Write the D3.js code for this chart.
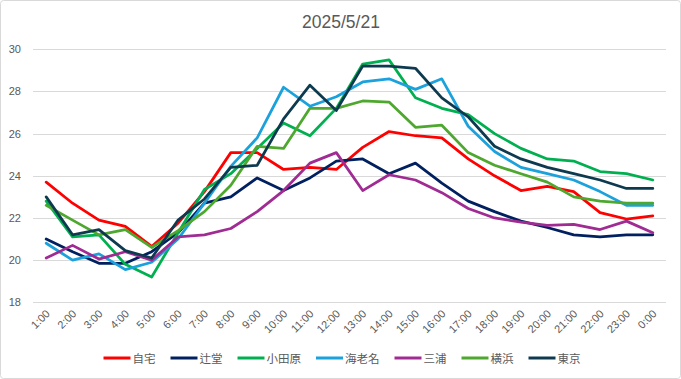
<!DOCTYPE html>
<html><head><meta charset="utf-8">
<script src="https://cdn.jsdelivr.net/npm/d3@7"></script>
<style>
html,body{margin:0;padding:0;background:#fff;}
svg{display:block;font-family:"Liberation Sans","Noto Sans CJK JP",sans-serif;}
</style></head>
<body>
<svg id="chart" width="681" height="379"></svg>
<script>
const title = "2025/5/21";
const hours = ["1:00","2:00","3:00","4:00","5:00","6:00","7:00","8:00","9:00","10:00","11:00","12:00","13:00","14:00","15:00","16:00","17:00","18:00","19:00","20:00","21:00","22:00","23:00","0:00"];
const yTicks = [18,20,22,24,26,28,30];
const seriesNames = ["自宅","辻堂","小田原","海老名","三浦","横浜","東京"];
const seriesColors = ["#FF0000","#002060","#00B050","#1BA1DB","#A02B93","#4EA72E","#0E3A4F"];
const jitaku   = [23.7,22.7,21.9,21.6,20.65,21.75,23.25,25.1,25.1,24.3,24.4,24.3,25.35,26.1,25.9,25.8,24.8,24.0,23.3,23.5,23.25,22.25,21.95,22.1];
const tsujido  = [21.0,20.4,19.85,19.85,20.4,21.3,22.7,23.0,23.9,23.3,23.9,24.7,24.8,24.1,24.6,23.65,22.8,22.3,21.85,21.55,21.2,21.1,21.2,21.2];
const odawara  = [22.8,21.1,21.2,19.8,19.2,21.3,23.35,24.1,25.3,26.5,25.9,27.2,29.3,29.5,27.7,27.2,26.9,26.0,25.3,24.8,24.7,24.2,24.1,23.8];
const ebina    = [20.8,20.0,20.3,19.55,19.9,21.0,22.7,24.45,25.8,28.2,27.3,27.75,28.45,28.6,28.1,28.6,26.35,25.15,24.4,24.1,23.8,23.25,22.6,22.6];
const miura    = [20.1,20.7,20.05,20.4,20.0,21.1,21.2,21.5,22.3,23.3,24.6,25.1,23.3,24.05,23.8,23.2,22.45,22.0,21.8,21.65,21.7,21.45,21.85,21.3];
const yokohama = [22.6,21.9,21.2,21.45,20.6,21.4,22.3,23.55,25.4,25.3,27.2,27.2,27.55,27.5,26.3,26.4,25.1,24.5,24.1,23.7,23.0,22.8,22.7,22.7];
const tokyo    = [23.0,21.2,21.45,20.45,20.1,21.9,22.9,24.4,24.5,26.7,28.3,27.1,29.2,29.2,29.1,27.7,26.8,25.4,24.8,24.4,24.1,23.8,23.4,23.4];
const seriesValues = [jitaku,tsujido,odawara,ebina,miura,yokohama,tokyo];

const svg = d3.select("#chart");
const W = 681, H = 379;
const plot = {left:33, right:666, top:49.3, bottom:302.3};
const textColor = "#595959";

svg.append("rect").attr("x",0.5).attr("y",0.5).attr("width",W-1).attr("height",H-1)
  .attr("rx",3).attr("fill","#fff").attr("stroke","#D9D9D9");

svg.append("text").attr("x",341).attr("y",28).attr("text-anchor","middle")
  .attr("font-size",17.5).attr("fill",textColor).text(title);

const x = d3.scalePoint().domain(hours).range([plot.left, plot.right]).padding(0.5);
const y = d3.scaleLinear().domain([18,30]).range([plot.bottom, plot.top]);

// grid
svg.append("g").selectAll("line").data(yTicks).join("line")
  .attr("x1",plot.left).attr("x2",plot.right)
  .attr("y1",d=>Math.round(y(d))+0.5).attr("y2",d=>Math.round(y(d))+0.5)
  .attr("stroke","#D9D9D9").attr("stroke-width",1);

// y axis
const yAxis = svg.append("g").attr("transform",`translate(${plot.left},0)`)
  .call(d3.axisLeft(y).tickValues(yTicks).tickSize(0).tickPadding(12));
yAxis.select(".domain").remove();
yAxis.selectAll("text").attr("font-size",11).attr("fill",textColor)
  .attr("font-family","'Liberation Sans',sans-serif");

// x axis
const xAxis = svg.append("g").attr("transform",`translate(0,${plot.bottom})`)
  .call(d3.axisBottom(x).tickSize(0).tickPadding(0));
xAxis.select(".domain").remove();
xAxis.selectAll("text").attr("font-size",11).attr("fill",textColor)
  .attr("text-anchor","end").attr("dy",0)
  .attr("transform","translate(4,12) rotate(-45)");

// lines
const line = d3.line().x((d,i)=>x(hours[i])).y(d=>y(d));
svg.append("g").selectAll("path").data(seriesValues).join("path")
  .attr("d",d=>line(d)).attr("fill","none")
  .attr("stroke",(d,i)=>seriesColors[i]).attr("stroke-width",2.75)
  .attr("stroke-linejoin","round").attr("stroke-linecap","round");

// legend
const lg = svg.append("g");
const items = lg.selectAll("g").data(seriesNames).join("g");
items.append("line").attr("x1",0).attr("x2",27).attr("y1",0).attr("y2",0)
  .attr("stroke",(d,i)=>seriesColors[i]).attr("stroke-width",3);
items.append("text").attr("x",29).attr("y",4.5).attr("font-size",11.5)
  .attr("fill",textColor).attr("font-family","'Noto Sans CJK JP',sans-serif").text(d=>d);
let cx = 0; const pos=[];
items.each(function(d){ const w = 29 + this.querySelector("text").getComputedTextLength(); pos.push(cx); cx += w + 15; });
const total = cx - 15;
const start = 342 - total/2;
items.attr("transform",(d,i)=>`translate(${start+pos[i]},358)`);
</script>
</body></html>
